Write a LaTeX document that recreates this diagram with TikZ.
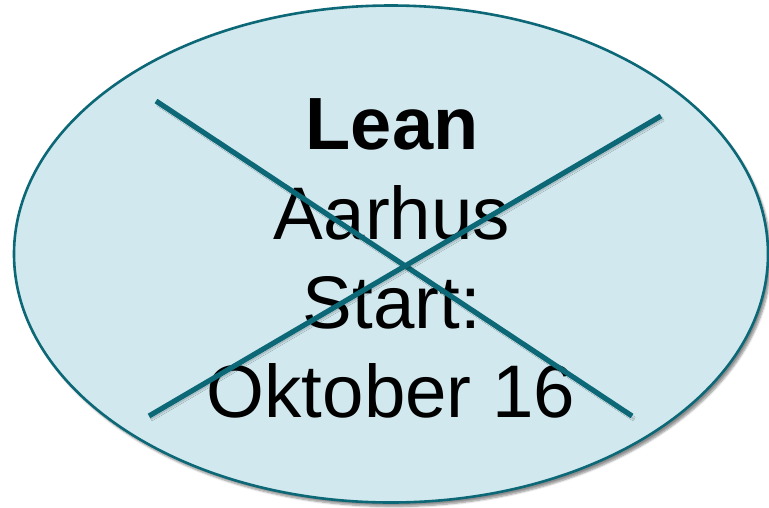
\documentclass[tikz,border=0pt]{standalone}
\usepackage{fontspec}
\setmainfont{Liberation Sans}
\usetikzlibrary{shadows.blur}
\definecolor{ovalfill}{RGB}{209,232,238}
\definecolor{tealline}{RGB}{12,104,118}
\tikzset{
  oval/.style={draw=tealline, line width=2.6pt, fill=ovalfill,
    blur shadow={shadow xshift=3pt, shadow yshift=-4pt, shadow blur steps=6, shadow opacity=45}},
  crossline/.style={draw=tealline, line width=5.2pt,
    blur shadow={shadow xshift=2pt, shadow yshift=-3pt, shadow blur steps=5, shadow opacity=35}},
  label/.style={anchor=base, inner sep=0pt, font=\fontsize{74.5}{89}\selectfont}
}
\begin{document}
\begin{tikzpicture}[x=1pt, y=-1pt]
  \useasboundingbox (0,0) rectangle (769,507);
  % the oval
  \path[oval] (391,254) ellipse [x radius=377, y radius=248.5];
  \coordinate (c) at (391,254);
  % the four lines of text
  \node[label, font=\fontsize{74}{89}\bfseries\selectfont] (t1) at (392,149) {Lean};
  \node[label] (t2) at (392,239) {Aarhus};
  \node[label] (t3) at (392,328) {Start:};
  \node[label] (t4) at (391,417) {Oktober 16};
  % the cross over it
  \coordinate (a1) at (156,101);
  \coordinate (a2) at (632,416);
  \coordinate (b1) at (149,416);
  \coordinate (b2) at (661,116);
  \path[crossline] (a1) -- (a2);
  \path[crossline] (b1) -- (b2);
\end{tikzpicture}
\end{document}
